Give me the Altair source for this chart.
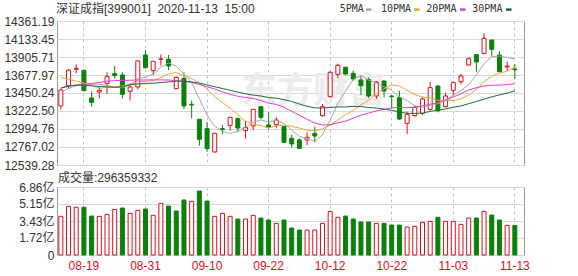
import altair as alt
import pandas as pd

# ---------------- data ----------------
dates = ["08-14", "08-17", "08-18", "08-19", "08-20", "08-21", "08-24", "08-25", "08-26", "08-27",
         "08-28", "08-31", "09-01", "09-02", "09-03", "09-04", "09-07", "09-08", "09-09", "09-10",
         "09-11", "09-14", "09-15", "09-16", "09-17", "09-18", "09-21", "09-22", "09-23", "09-24",
         "09-25", "09-28", "09-29", "09-30", "10-09", "10-12", "10-13", "10-14", "10-15", "10-16",
         "10-19", "10-20", "10-21", "10-22", "10-23", "10-26", "10-27", "10-28", "10-29", "10-30",
         "11-02", "11-03", "11-04", "11-05", "11-06", "11-09", "11-10", "11-11", "11-12", "11-13"]

opens = [13285.8, 13543.0, 13749.7, 13737.0, 13387.0, 13462.9, 13572.6, 13694.8, 13678.0, 13471.3,
         13526.2, 13931.0, 13732.8, 13876.2, 13876.2, 13505.1, 13635.8, 13306.9, 13117.1, 12999.0,
         12703.8, 12999.0, 13041.2, 13125.5, 12977.9, 13032.7, 13277.3, 13045.4, 13049.6, 13024.3,
         12876.7, 12855.6, 12855.6, 12940.0, 13163.5, 13403.9, 13686.4, 13775.0, 13699.1, 13614.7,
         13623.2, 13412.3, 13602.1, 13412.3, 13391.2, 13066.5, 13163.5, 13193.0, 13243.6, 13538.8,
         13277.3, 13484.0, 13593.6, 13804.5, 13935.2, 13952.1, 14120.8, 13931.0, 13779.2, 13754.0]
highs = [13500.8, 13753.9, 13812.9, 13741.2, 13471.3, 13530.4, 13711.7, 13791.9, 13711.7, 13572.6,
         13867.8, 13994.3, 13850.9, 13939.5, 13931.0, 13656.9, 13711.7, 13353.3, 13117.1, 13083.3,
         12948.4, 13045.4, 13142.4, 13142.4, 13096.0, 13247.8, 13285.8, 13205.7, 13142.4, 13032.7,
         12918.9, 12876.7, 12952.6, 13024.3, 13311.1, 13728.6, 13821.4, 13783.4, 13732.8, 13665.3,
         13648.5, 13602.1, 13610.5, 13424.9, 13479.8, 13214.1, 13285.8, 13395.4, 13589.5, 13547.2,
         13454.5, 13597.9, 13690.6, 13897.3, 13935.2, 14209.4, 14120.8, 13977.4, 13846.7, 13812.9]
lows = [13243.6, 13500.8, 13699.1, 13471.3, 13277.3, 13382.8, 13437.6, 13631.6, 13378.6, 13353.3,
        13496.6, 13762.3, 13678.0, 13796.1, 13741.2, 13496.6, 13243.6, 13129.7, 12783.9, 12708.0,
        12695.3, 12927.3, 12973.7, 12952.6, 12872.5, 12982.1, 13121.3, 12990.5, 13003.2, 12821.9,
        12758.6, 12741.7, 12792.4, 12826.1, 13150.8, 13395.4, 13635.8, 13673.8, 13610.5, 13424.9,
        13387.0, 13374.4, 13395.4, 13256.3, 13108.6, 12931.5, 13150.8, 13171.9, 13226.7, 13205.7,
        13268.9, 13420.7, 13559.9, 13796.1, 13720.2, 13943.7, 13909.9, 13711.7, 13732.8, 13627.4]
closes = [13488.2, 13741.2, 13762.3, 13479.8, 13332.2, 13484.0, 13661.1, 13669.5, 13433.4, 13526.2,
          13855.1, 13770.8, 13850.9, 13880.4, 13791.9, 13648.5, 13285.8, 13298.4, 12864.1, 12746.0,
          12940.0, 12990.5, 13142.4, 13007.4, 13011.6, 13243.6, 13142.4, 13015.9, 13108.6, 12826.1,
          12805.0, 12750.2, 12889.3, 12906.2, 13277.3, 13711.7, 13800.3, 13690.6, 13627.4, 13543.0,
          13412.3, 13589.5, 13475.5, 13403.9, 13121.3, 13180.3, 13268.9, 13374.4, 13517.7, 13226.7,
          13412.3, 13581.0, 13665.3, 13884.6, 13842.5, 14141.9, 14002.7, 13720.2, 13791.9, 13745.5]

ma5 = [13455.0, 13509.0, 13543.0, 13564.0, 13560.7, 13559.9, 13543.9, 13525.3, 13516.0, 13554.8,
       13629.1, 13651.0, 13687.3, 13776.7, 13829.8, 13788.5, 13691.5, 13581.0, 13377.7, 13168.6,
       13026.9, 12967.8, 12936.6, 12965.3, 13018.4, 13079.1, 13109.5, 13084.2, 13104.4, 13067.3,
       12979.6, 12901.2, 12875.8, 12835.4, 12925.6, 13106.9, 13317.0, 13477.2, 13621.5, 13674.6,
       13614.7, 13572.6, 13529.5, 13484.8, 13400.5, 13354.1, 13290.0, 13269.8, 13292.5, 13313.6,
       13360.0, 13422.4, 13480.6, 13554.0, 13677.1, 13823.1, 13907.4, 13918.4, 13899.8, 13880.4]
ma10 = [13650.0, 13625.0, 13600.0, 13575.0, 13545.0, 13510.0, 13520.0, 13530.0, 13540.0, 13557.8,
        13594.5, 13597.4, 13606.3, 13646.4, 13692.3, 13708.8, 13671.3, 13634.1, 13577.2, 13499.2,
        13407.7, 13329.7, 13258.8, 13171.5, 13093.5, 13053.0, 13038.6, 13010.4, 13034.8, 13042.9,
        13029.4, 13005.3, 12980.0, 12969.9, 12996.5, 13043.3, 13109.1, 13176.5, 13228.4, 13300.1,
        13360.8, 13444.8, 13503.4, 13553.2, 13537.6, 13484.4, 13431.3, 13399.7, 13388.7, 13357.1,
        13357.1, 13356.2, 13375.2, 13423.3, 13495.4, 13591.5, 13664.9, 13699.5, 13726.9, 13778.8]
ma20 = [13515.0, 13535.0, 13550.0, 13560.0, 13570.0, 13585.0, 13600.0, 13607.0, 13610.0, 13612.0,
        13614.0, 13615.0, 13616.0, 13616.0, 13614.0, 13608.0, 13599.0, 13584.0, 13558.7, 13528.5,
        13501.1, 13463.5, 13432.6, 13408.9, 13392.9, 13380.9, 13354.9, 13322.3, 13306.0, 13271.0,
        13218.5, 13167.5, 13119.4, 13070.7, 13045.0, 13048.1, 13073.9, 13093.5, 13131.6, 13171.5,
        13195.1, 13225.0, 13241.7, 13261.5, 13267.0, 13263.8, 13270.2, 13288.1, 13308.5, 13328.6,
        13358.9, 13400.5, 13439.3, 13488.2, 13516.5, 13538.0, 13548.1, 13549.6, 13557.8, 13567.9]
ma30 = [13510.0, 13540.0, 13550.0, 13548.0, 13540.0, 13533.0, 13528.0, 13522.0, 13530.0, 13555.0,
        13565.0, 13570.0, 13575.0, 13582.0, 13590.0, 13600.0, 13598.0, 13590.0, 13575.0, 13552.0,
        13530.0, 13507.0, 13485.0, 13462.0, 13440.0, 13423.0, 13412.0, 13393.0, 13384.0, 13366.6,
        13343.8, 13310.8, 13281.7, 13262.6, 13260.8, 13268.3, 13273.0, 13273.7, 13280.2, 13280.7,
        13266.0, 13259.9, 13247.4, 13231.5, 13209.2, 13193.6, 13193.0, 13195.5, 13217.3, 13233.3,
        13249.1, 13268.8, 13286.2, 13315.4, 13343.1, 13373.1, 13401.7, 13425.2, 13448.0, 13478.6]

volumes = [3.90, 4.91, 4.81, 4.81, 3.93, 3.90, 4.10, 4.60, 4.74, 4.20,
           4.50, 4.64, 4.00, 5.21, 4.94, 4.44, 5.55, 5.41, 6.45, 5.44,
           3.90, 4.20, 3.90, 3.63, 3.63, 4.00, 3.73, 3.53, 3.19, 3.53,
           2.72, 2.52, 2.52, 2.52, 3.19, 4.40, 3.80, 3.93, 3.63, 3.33,
           3.33, 3.19, 3.19, 3.02, 3.02, 2.82, 2.89, 3.29, 3.39, 3.80,
           3.39, 3.39, 3.09, 3.73, 3.73, 4.40, 4.03, 3.53, 2.99, 2.96359332]
vol_up = [1, 1, 1, 0, 0, 1, 1, 1, 0, 1,
          1, 0, 1, 1, 0, 0, 0, 1, 0, 0,
          1, 1, 1, 0, 1, 1, 0, 0, 1, 0,
          0, 0, 1, 1, 1, 1, 1, 0, 0, 0,
          0, 1, 0, 0, 0, 1, 1, 1, 1, 0,
          1, 1, 1, 1, 0, 1, 0, 0, 1, 0]

label_dates = ["08-19", "08-31", "09-10", "09-22", "10-12", "10-22", "11-03", "11-13"]
price_ticks = [14361.19, 14133.45, 13905.71, 13677.97, 13450.24, 13222.50, 12994.76, 12767.02, 12539.28]
vol_ticks = [0, 1.72, 3.43, 5.15, 6.86]
ma_names = ["5PMA", "10PMA", "20PMA", "30PMA"]
ma_colors = ["#a6a6a6", "#eba53a", "#e03ee0", "#1d6b3c"]
title_text = "深证成指[399001]\u00a0\u00a02020-11-13\u00a0\u00a015:00"
vol_label = "成交量:296359332"
watermark_text = "东方财富"

# ---------------- styles ----------------
RED = "#d2141e"
GREEN = "#0b800b"
FONT = "Liberation Sans, Noto Sans CJK SC"
TXT = "#333333"
W = 467

df = pd.DataFrame(dict(date=dates, open=opens, high=highs, low=lows, close=closes))
df["dir"] = ["up" if c >= o else "down" for o, c in zip(opens, closes)]

ma_df = pd.DataFrame({
    "date": dates * 4,
    "series": [n for n in ma_names for _ in dates],
    "value": ma5 + ma10 + ma20 + ma30,
})

vdf = pd.DataFrame(dict(date=dates, vol=volumes, vdir=["up" if u else "down" for u in vol_up]))

xscale = alt.Scale(type="band", paddingInner=0, paddingOuter=0.345, align=0)
stroke_scale = alt.Scale(domain=["up", "down"], range=[RED, GREEN])
fill_scale = alt.Scale(domain=["up", "down"], range=["#ffffff", GREEN])

x_price = alt.X("date:O", sort=None, scale=xscale,
                axis=alt.Axis(values=label_dates, labels=False, ticks=False, domain=False,
                              grid=True, gridDash=[3, 3], gridColor="#c4c4c4", bandPosition=0.5,
                              title=None))
yscale = alt.Scale(domain=[price_ticks[-1], price_ticks[0]], nice=False, zero=False)
yaxis = alt.Axis(values=price_ticks, format=".2f", grid=True, gridColor="#d9d9d9", domain=False,
                 ticks=False, labelPadding=3, labelFont=FONT, labelFontSize=12, labelColor=TXT,
                 title=None)


def yp(field):
    return alt.Y(field, type="quantitative", scale=yscale, axis=yaxis, title=None)


def one(text):
    return alt.Chart(pd.DataFrame({"t": [text]}))


watermark = one(watermark_text).mark_text(
    align="left", baseline="middle", fontSize=36, fontWeight="bold", color="#ececec",
    font="Noto Sans CJK SC").encode(text="t:N", x=alt.value(184), y=alt.value(71))

wick = alt.Chart(df).mark_rule(strokeWidth=1).encode(
    x=x_price, y=yp("low"), y2="high:Q",
    stroke=alt.Stroke("dir:N", scale=stroke_scale, legend=None))

body = alt.Chart(df).mark_bar(size=4, strokeWidth=1).encode(
    x=x_price, y=yp("open"), y2="close:Q",
    fill=alt.Fill("dir:N", scale=fill_scale, legend=None),
    stroke=alt.Stroke("dir:N", scale=stroke_scale, legend=None))

lines = alt.Chart(ma_df).mark_line(strokeWidth=1).encode(
    x=x_price, y=yp("value"),
    color=alt.Color("series:N", scale=alt.Scale(domain=ma_names, range=ma_colors), legend=None))

title = one(title_text).mark_text(
    align="left", baseline="middle", font=FONT, fontSize=12, color=TXT
).encode(text="t:N", x=alt.value(-1), y=alt.value(-12))

legend_layers = []
text_x = [282.7, 324.0, 369.3, 415.3]
dash_x = [309.0, 357.0, 403.0, 449.0]
for name, col, tx, dx in zip(ma_names, ma_colors, text_x, dash_x):
    legend_layers.append(one(name).mark_text(
        align="left", baseline="middle", font="DejaVu Sans Mono", fontSize=10, color=TXT
    ).encode(text="t:N", x=alt.value(tx), y=alt.value(-11.7)))
    legend_layers.append(one(name).mark_rule(strokeWidth=2.5, color=col).encode(
        x=alt.value(dx), x2=alt.value(dx + 5.5), y=alt.value(-11.4)))

price = alt.layer(watermark, wick, body, lines, title, *legend_layers).properties(width=W, height=144)

x_vol = alt.X("date:O", sort=None, scale=xscale,
              axis=alt.Axis(values=label_dates, labels=True, labelColor=RED, labelFont=FONT,
                            labelFontSize=12, labelPadding=5, labelAngle=0, ticks=False,
                            domain=False, grid=True, gridDash=[3, 3], gridColor="#c4c4c4",
                            bandPosition=0.5, title=None))
vbars = alt.Chart(vdf).mark_bar(size=4, strokeWidth=1).encode(
    x=x_vol,
    y=alt.Y("vol:Q", scale=alt.Scale(domain=[0, vol_ticks[-1]], nice=False),
            axis=alt.Axis(values=vol_ticks,
                          labelExpr="datum.value == 0 ? '0' : format(datum.value, '.2f') + '亿'",
                          grid=True, gridColor="#d9d9d9", domain=False, ticks=False,
                          labelPadding=3, labelFont=FONT, labelFontSize=12, labelColor=TXT,
                          title=None)),
    fill=alt.Fill("vdir:N", scale=fill_scale, legend=None),
    stroke=alt.Stroke("vdir:N", scale=stroke_scale, legend=None))

vtext = one(vol_label).mark_text(
    align="left", baseline="middle", font=FONT, fontSize=12, color=TXT
).encode(text="t:N", x=alt.value(1), y=alt.value(-9))

volume = alt.layer(vbars, vtext).properties(width=W, height=68)

chart = alt.vconcat(price, volume, spacing=22, bounds="flush").configure(
    padding={"left": 3, "top": 2, "right": 5, "bottom": 2}, background="white", font=FONT
).configure_view(stroke="#9a9a9a", strokeWidth=1)

chart.save("out.html", embed_options={"renderer": "svg", "actions": False})
